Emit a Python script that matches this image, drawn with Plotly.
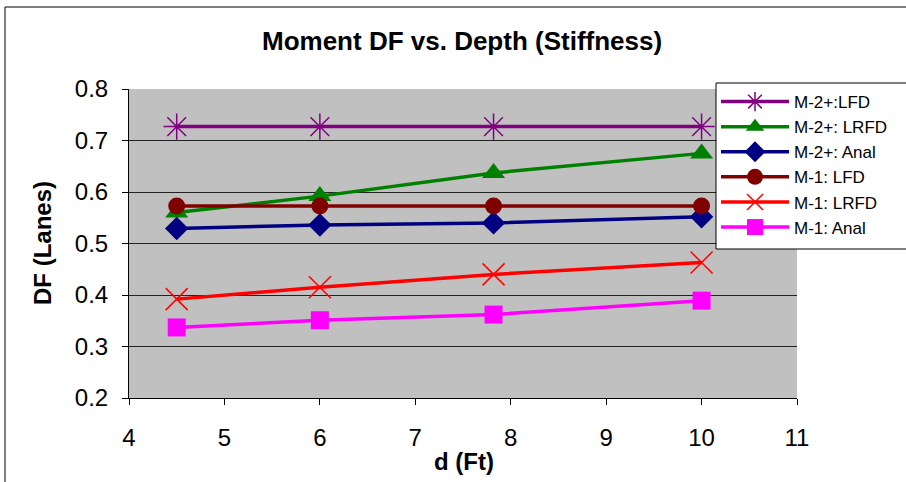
import plotly.graph_objects as go

# Depth values (ft)
depth = [4.5, 6.0, 7.82, 10.0]

# Moment distribution factors per method
m2_lfd = [0.727, 0.727, 0.727, 0.727]
m2_lrfd = [0.560, 0.592, 0.637, 0.675]
m2_anal = [0.529, 0.536, 0.540, 0.552]
m1_lfd = [0.573, 0.573, 0.573, 0.573]
m1_lrfd = [0.392, 0.415, 0.440, 0.463]
m1_anal = [0.337, 0.351, 0.362, 0.389]

series = [
    ("M-2+:LFD", m2_lfd, "#800080", "asterisk-open", 22, 1.5),
    ("M-2+: LRFD", m2_lrfd, "#008000", "triangle-up", 20, 0),
    ("M-2+: Anal", m2_anal, "#000080", "diamond", 18, 0),
    ("M-1: LFD", m1_lfd, "#800000", "circle", 17, 0),
    ("M-1: LRFD", m1_lrfd, "#FF0000", "x-thin-open", 22, 1.5),
    ("M-1: Anal", m1_anal, "#FF00FF", "square", 18, 0),
]

fig = go.Figure()
for name, vals, color, sym, size, lw in series:
    fig.add_trace(go.Scatter(
        x=depth, y=vals, name=name, mode="lines+markers",
        line=dict(color=color, width=3.5),
        marker=dict(symbol=sym, size=size, color=color,
                    line=dict(color=color, width=lw)),
        cliponaxis=False,
    ))

W, H = 906, 482
L, R, T, B = 129, 109, 89, 84
pw, ph = W - L - R, H - T - B

def px_x(p):
    return (p - L) / pw

def px_y(p):
    return (H - B - p) / ph

font = "Arial, Liberation Sans, sans-serif"

fig.update_layout(
    width=W, height=H,
    margin=dict(l=L, r=R, t=T, b=B, autoexpand=False),
    paper_bgcolor="white",
    plot_bgcolor="#C0C0C0",
    font=dict(family=font, color="black"),
    showlegend=True,
    legend=dict(x=px_x(716), xanchor="left", y=px_y(84), yanchor="top",
                bgcolor="rgba(0,0,0,0)", borderwidth=0,
                font=dict(size=17, family=font), itemwidth=68,
                tracegroupgap=0),
    xaxis=dict(range=[4, 11], dtick=1, tick0=4, showgrid=False,
               showline=True, linecolor="black", linewidth=1,
               ticks="outside", ticklen=6, tickcolor="black",
               tickfont=dict(size=24, family=font), ticklabelstandoff=12,
               zeroline=False),
    yaxis=dict(range=[0.2, 0.8], dtick=0.1, tick0=0.2, tickformat=".1f",
               showgrid=True, gridcolor="#222222", gridwidth=1,
               showline=True, linecolor="black", linewidth=1,
               ticks="outside", ticklen=6, tickcolor="black",
               tickfont=dict(size=24, family=font), ticklabelstandoff=9,
               zeroline=False),
    annotations=[
        dict(text="<b>Moment DF vs. Depth (Stiffness)</b>", xref="paper", yref="paper",
             x=px_x(462), y=px_y(41), xanchor="center", yanchor="middle",
             showarrow=False, font=dict(size=26, family=font)),
        dict(text="<b>d (Ft)</b>", xref="paper", yref="paper",
             x=px_x(464), y=px_y(461), xanchor="center", yanchor="middle",
             showarrow=False, font=dict(size=24, family=font)),
        dict(text="<b>DF (Lanes)</b>", xref="paper", yref="paper",
             x=px_x(42), y=px_y(243), xanchor="center", yanchor="middle",
             showarrow=False, textangle=-90, font=dict(size=24, family=font)),
    ],
    shapes=[
        # outer chart frame (left and top edges visible)
        dict(type="rect", xref="paper", yref="paper",
             x0=px_x(5), x1=px_x(930), y0=px_y(7), y1=px_y(520),
             line=dict(color="black", width=1), fillcolor="rgba(0,0,0,0)",
             layer="below"),
        # legend panel, running past the right edge of the chart
        dict(type="rect", xref="paper", yref="paper",
             x0=px_x(716), x1=px_x(940), y0=px_y(83), y1=px_y(249),
             line=dict(color="black", width=1), fillcolor="white",
             layer="above"),
    ],
)

fig.write_html("out.html")
